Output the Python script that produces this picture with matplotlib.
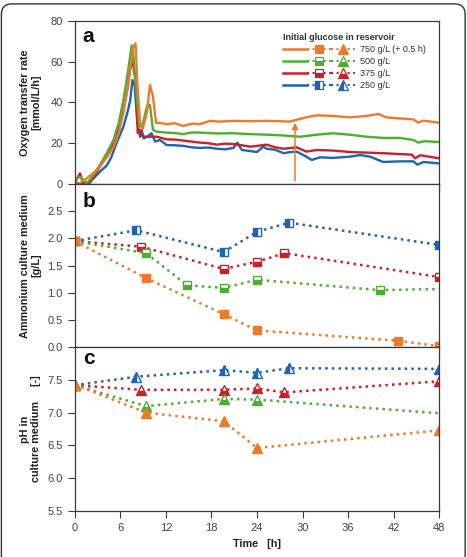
import matplotlib
matplotlib.use('Agg')
import matplotlib.pyplot as plt
from matplotlib.lines import Line2D
from matplotlib.legend_handler import HandlerTuple
from matplotlib.patches import FancyBboxPatch

plt.rcParams['font.family'] = ['Liberation Sans', 'DejaVu Sans']

# colours per initial glucose concentration
c750 = '#ec7a2c'
c500 = '#4eae34'
c375 = '#c9202b'
c250 = '#1f63b5'

# ---- panel a: oxygen transfer rate [mmol/L/h] ----
otr_t_750 = [0.7, 1.5, 2.5, 3.3, 4.2, 5.1, 5.8, 6.4, 6.9, 7.3, 7.7, 8.0, 8.25, 8.6, 8.95,
             9.5, 9.9, 10.3, 10.7, 11.1, 12.1, 13.2, 14.3, 15.4, 16.5, 17.8, 19.0, 20.9,
             23.0, 25.3, 27.0, 28.3, 29.7, 30.8, 31.9, 34.0, 36.2, 38.4, 40.0, 41.0, 42.8,
             44.6, 45.2, 45.9, 48.0]
otr_750 = [0.6, 2.5, 5.5, 8.5, 13, 18, 25, 35, 46, 56, 67, 69, 49, 30, 27,
           35, 48.6, 43, 30, 30, 29.4, 29.8, 28.5, 29.6, 29.4, 31, 30.6, 31,
           30.8, 31, 30.8, 30.6, 32, 33, 33.7, 33.4, 32.7, 33.4, 34.4, 32.7, 32.2,
           31.7, 30.1, 31.1, 30.1]

otr_t_500 = [0, 0.7, 1.6, 2.5, 3.3, 4.2, 5.1, 5.8, 6.4, 6.8, 7.1, 7.5, 7.7, 8.2, 8.5,
             9.0, 9.5, 9.9, 10.3, 10.8, 12.1, 13.2, 14.3, 15.4, 16.5, 18.7, 20.9, 23.0,
             25.3, 27.5, 29.7, 31.9, 34.0, 36.2, 38.4, 40.6, 42.8, 44.6, 45.2, 46.0, 48.0]
otr_500 = [2, 3.6, 0.3, 4.5, 9.3, 15, 21.6, 30, 41, 50, 57.6, 68, 64, 41, 28,
           30, 38, 38.8, 26.5, 25.7, 25.2, 25.0, 24.5, 25.3, 25.2, 24.8, 24.9, 24.5,
           24.2, 23.8, 23.2, 24.2, 24.9, 24.2, 23.2, 22.6, 22.6, 21.6, 20.3, 21.0, 20.6]

otr_t_375 = [0, 0.7, 1.1, 2.0, 3.3, 4.2, 5.1, 5.8, 6.4, 7.0, 7.3, 7.6, 8.0, 8.3, 8.6,
             8.95, 9.5, 10.8, 12.1, 13.2, 14.3, 15.4, 16.5, 17.6, 18.7, 19.8, 20.9, 22.0,
             23.1, 24.2, 25.3, 26.4, 27.5, 28.3, 29.2, 30.5, 31.9, 34.0, 36.2, 38.4, 40.6,
             42.8, 44.4, 44.8, 45.5, 48.0]
otr_375 = [0.6, 5.2, 0.6, 0.6, 8.5, 14, 20, 27, 36, 48, 56, 61, 51, 25, 26.5,
           23.2, 23.2, 23.2, 21.9, 21.8, 21.3, 20.8, 20.3, 20.0, 19.3, 19.8, 19.6, 19.0,
           18.3, 18.8, 19.3, 18.0, 17.3, 17.6, 18.0, 15.9, 16.7, 16.4, 15.7, 15.4, 15.1,
           14.7, 14.4, 12.6, 14.1, 12.6]

otr_t_250 = [0, 1.1, 1.8, 2.5, 3.3, 4.2, 4.8, 5.5, 6.4, 7.0, 7.3, 7.6, 7.9, 8.25, 8.6,
             8.8, 9.1, 9.7, 10.1, 10.6, 11.2, 12.1, 13.2, 14.3, 15.4, 16.5, 17.6, 18.7,
             19.8, 20.9, 21.4, 22.0, 23.0, 24.0, 24.8, 25.3, 26.4, 27.5, 28.3, 29.2, 30.5,
             31.2, 32.3, 34.0, 36.2, 37.6, 38.9, 40.6, 42.8, 44.6, 45.1, 45.9, 48.0]
otr_250 = [0.3, 0, 1.0, 2.8, 6, 9, 13, 20, 28, 36, 41, 51, 48, 30, 23.2,
           26.5, 22.4, 23.6, 24.9, 20.8, 21.6, 19.1, 19.0, 18.7, 18.0, 17.7, 17.9, 17.3,
           17.0, 17.7, 20.3, 16.7, 16.2, 15.7, 18.3, 17.3, 16.8, 15.1, 15.6, 15.9, 13.4,
           11.8, 13.1, 12.8, 13.4, 14.2, 13.4, 10.8, 11.1, 11.1, 9.5, 10.8, 10.1]

arrow_t = 29.0  # glucose pulse mark

# ---- panel b: ammonium [g/L] ----
nh4_t_750 = [0, 9.4, 19.6, 24, 42.6, 48]
nh4_750 = [1.95, 1.27, 0.61, 0.31, 0.12, 0.02]
nh4_t_500 = [0, 9.4, 14.8, 19.6, 24, 40.2, 48]
nh4_500 = [1.95, 1.73, 1.14, 1.09, 1.24, 1.05, 1.07]
nh4_t_375 = [0, 8.7, 19.6, 24, 27.6, 48]
nh4_375 = [1.95, 1.85, 1.44, 1.57, 1.73, 1.29]
nh4_t_250 = [0, 8.1, 19.6, 24, 28.2, 48]
nh4_250 = [1.95, 2.15, 1.75, 2.12, 2.29, 1.88]

# ---- panel c: pH ----
ph_t_750 = [0, 9.4, 19.6, 24, 48]
ph_750 = [7.43, 7.0, 6.87, 6.46, 6.73]
ph_t_500 = [0, 9.4, 19.6, 24, 48]
ph_500 = [7.42, 7.10, 7.21, 7.20, 6.99]
ph_t_375 = [0, 8.7, 19.6, 24, 27.6, 48]
ph_375 = [7.42, 7.35, 7.35, 7.37, 7.31, 7.48]
ph_t_250 = [0, 8.1, 19.6, 24, 28.2, 48]
ph_250 = [7.42, 7.55, 7.65, 7.61, 7.68, 7.67]

labels = ['750 g/L (+ 0.5 h)', '500 g/L', '375 g/L', '250 g/L']
colors = [c750, c500, c375, c250]
fills = ['full', 'bottom', 'bottom', 'left']

fig = plt.figure(figsize=(4.67, 5.57), dpi=100)
ax_a = fig.add_axes([0.16, 0.6697, 0.7807, 0.2926])
ax_b = fig.add_axes([0.16, 0.3765, 0.7807, 0.2932], sharex=ax_a)
ax_c = fig.add_axes([0.16, 0.0831, 0.7807, 0.2934], sharex=ax_a)

# panel a
for t, v, c in [(otr_t_250, otr_250, c250), (otr_t_375, otr_375, c375),
                (otr_t_500, otr_500, c500), (otr_t_750, otr_750, c750)]:
    ax_a.plot(t, v, color=c, lw=1.7, solid_joinstyle='round')
ax_a.annotate('', xy=(arrow_t, 30), xytext=(arrow_t, 1.5),
              arrowprops=dict(arrowstyle='-|>', color=c750, lw=1.1,
                              mutation_scale=9, shrinkA=0, shrinkB=0))
ax_a.set_ylim(0, 80)
ax_a.set_yticks([0, 20, 40, 60, 80])

# panel b
nh4 = [(nh4_t_750, nh4_750), (nh4_t_500, nh4_500), (nh4_t_375, nh4_375), (nh4_t_250, nh4_250)]
for i in [3, 2, 1, 0]:
    t, v = nh4[i]
    mev = list(range(len(t) - 1)) if i == 1 else None
    ax_b.plot(t, v, color=colors[i], ls=':', lw=1.8, marker='s', ms=6,
              fillstyle=fills[i], markerfacecoloralt='white', mew=1, markevery=mev)
ax_b.set_ylim(0, 3.0)
ax_b.set_yticks([0.0, 0.5, 1.0, 1.5, 2.0, 2.5])
ax_b.set_yticklabels(['0.0', '0.5', '1.0', '1.5', '2.0', '2.5'])

# panel c
ph = [(ph_t_750, ph_750), (ph_t_500, ph_500), (ph_t_375, ph_375), (ph_t_250, ph_250)]
for i in [3, 2, 1, 0]:
    t, v = ph[i]
    mev = list(range(len(t) - 1)) if i == 1 else None
    ax_c.plot(t, v, color=colors[i], ls=':', lw=1.8, marker='^', ms=7,
              fillstyle=fills[i], markerfacecoloralt='white', mew=1, markevery=mev)
ax_c.set_ylim(5.5, 8.0)
ax_c.set_yticks([5.5, 6.0, 6.5, 7.0, 7.5])
ax_c.set_yticklabels(['5.5', '6.0', '6.5', '7.0', '7.5'])

ax_c.set_xlim(0, 48)
ax_c.set_xticks(range(0, 49, 6))

for ax in [ax_a, ax_b, ax_c]:
    for s in ax.spines.values():
        s.set_color('#3a3a3a')
        s.set_linewidth(0.9)
    ax.tick_params(direction='out', length=5, width=0.8, color='#3a3a3a',
                   labelsize=8, labelcolor='#444444')
for ax in [ax_a, ax_b]:
    ax.tick_params(labelbottom=False)

lab_kw = dict(fontsize=7.8, fontweight='bold', color='#222222', linespacing=1.15)
ax_a.set_ylabel('Oxygen transfer rate\n[mmol/L/h]', **lab_kw)
ax_b.set_ylabel('Ammonium culture medium\n[g/L]', **lab_kw)
ax_c.set_ylabel('pH in\nculture medium     [-]', **lab_kw)
for ax in [ax_a, ax_b, ax_c]:
    ax.yaxis.set_label_coords(-0.092, 0.5)
ax_c.set_xlabel('Time   [h]', fontsize=7.8, fontweight='bold', color='#222222', labelpad=5)

for ax, letter, y in [(ax_a, 'a', 0.873), (ax_b, 'b', 0.857), (ax_c, 'c', 0.898)]:
    ax.text(0.022, y, letter, transform=ax.transAxes, fontsize=15,
            fontweight='bold', ha='left', va='baseline', color='#111111')

# legend
handles = []
for c, f in zip(colors, fills):
    h1 = Line2D([], [], color=c, lw=1.8)
    h2 = Line2D([], [], color=c, ls=':', lw=1.5, marker='s', ms=5.5,
                fillstyle=f, markerfacecoloralt='white', mew=0.9)
    h3 = Line2D([], [], color=c, ls=':', lw=1.5, marker='^', ms=6.5,
                fillstyle=f, markerfacecoloralt='white', mew=0.9)
    handles.append((h1, h2, h3))
leg = ax_a.legend(handles, labels, handler_map={tuple: HandlerTuple(ndivide=None, pad=0)},
                  loc='upper left', bbox_to_anchor=(0.571, 0.925), frameon=False,
                  fontsize=6.5, handlelength=8.0, handleheight=1.0, handletextpad=0.5,
                  labelspacing=0.32, borderpad=0, borderaxespad=0,
                  title='Initial glucose in reservoir', alignment='left',
                  title_fontproperties={'weight': 'bold', 'size': 6.5})
for txt in leg.get_texts():
    txt.set_color('#333333')
leg.get_title().set_color('#333333')

frame = FancyBboxPatch((0.003, -0.02), 0.993, 1.013, transform=fig.transFigure,
                       boxstyle='round,pad=0,rounding_size=0.022',
                       mutation_aspect=467 / 557, fill=False, ec='#333333', lw=1.0)
fig.patches.append(frame)

fig.savefig('out.png', dpi=100)
